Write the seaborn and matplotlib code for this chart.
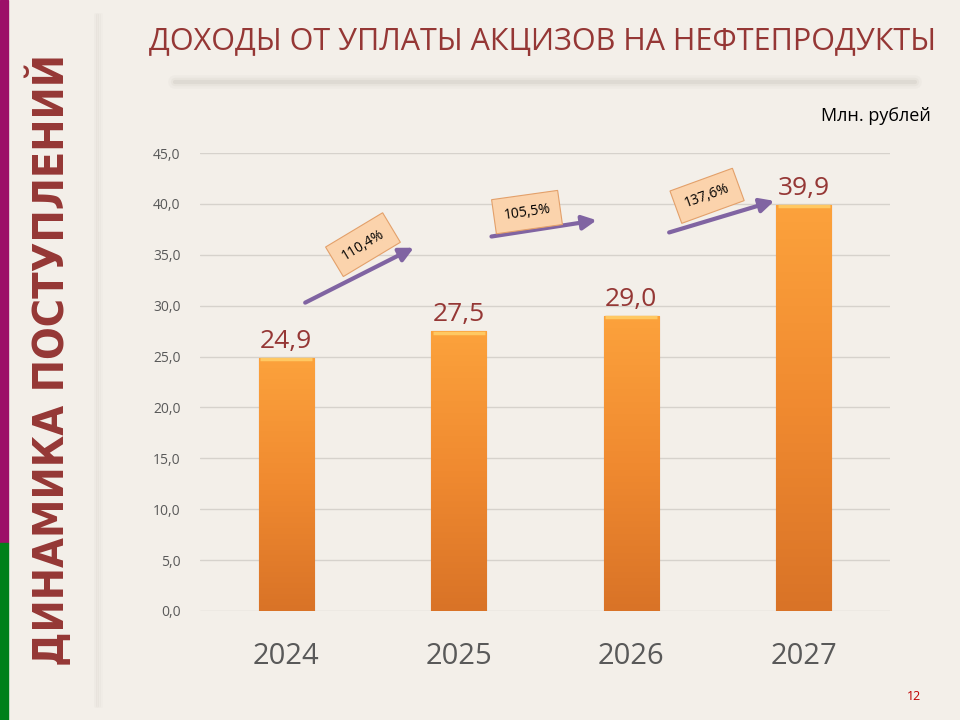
import numpy as np
import pandas as pd
import seaborn as sns
import matplotlib.pyplot as plt
from matplotlib.colors import LinearSegmentedColormap

# data
years = ["2024", "2025", "2026", "2027"]
revenue = [24.9, 27.5, 29.0, 39.9]
growth_pct = ["110,4%", "105,5%", "137,6%"]

title = "ДОХОДЫ ОТ УПЛАТЫ АКЦИЗОВ НА НЕФТЕПРОДУКТЫ"
side_title = "ДИНАМИКА ПОСТУПЛЕНИЙ"
unit = "Млн. рублей"

BG = "#f3efe9"
DARK_RED = "#953735"
GREY = "#595959"

sns.set_theme(style="white")
plt.rcParams["font.family"] = ["Open Sans", "DejaVu Sans"]

df = pd.DataFrame({"year": years, "value": revenue})

fig = plt.figure(figsize=(9.6, 7.2), dpi=100, facecolor=BG)
ax = fig.add_axes([0.2083, 0.1514, 0.7187, 0.636])
ax.set_facecolor("none")

sns.barplot(data=df, x="year", y="value", color="#f7923a", width=0.32,
            edgecolor="#c8692a", linewidth=0.8, ax=ax, zorder=3)

ax.set_ylim(0, 45)
ax.set_xlim(-0.5, 3.5)
ax.set_yticks(np.arange(0, 45.1, 5))
ax.set_yticklabels([f"{v:.1f}".replace(".", ",") for v in np.arange(0, 45.1, 5)])
ax.yaxis.grid(True, color="#d6d2cc", linewidth=1)
ax.set_axisbelow(True)
for s in ax.spines.values():
    s.set_visible(False)
ax.tick_params(axis="y", labelsize=10, colors=GREY, length=0, pad=14)
ax.tick_params(axis="x", labelsize=21, colors=GREY, length=0, pad=22)
ax.set_xlabel("")
ax.set_ylabel("")

# gradient fill on bars
cmap = LinearSegmentedColormap.from_list("bar", ["#d97327", "#f08a30", "#fca23c"])
grad = np.linspace(0, 1, 256).reshape(-1, 1)
for p in ax.patches:
    x0, y0 = p.get_x(), p.get_y()
    w, h = p.get_width(), p.get_height()
    im = ax.imshow(grad, extent=[x0, x0 + w, y0, y0 + h], origin="lower",
                   cmap=cmap, aspect="auto", zorder=3.5)
    im.set_clip_path(p)
    # light top bevel
    ax.plot([x0 + 0.01, x0 + w - 0.01], [y0 + h - 0.15, y0 + h - 0.15],
            color="#ffc862", lw=2.5, zorder=4, solid_capstyle="butt")
ax.set_xlim(-0.5, 3.5)
ax.set_ylim(0, 45)

# value labels
for i, v in enumerate(revenue):
    ax.text(i, v + 0.4, f"{v:.1f}".replace(".", ","), ha="center", va="bottom",
            fontsize=19, color=DARK_RED, zorder=5)

# growth arrows with rotated boxes
arrows = [((0.11, 30.3), (0.74, 35.7)),
          ((1.19, 36.8), (1.80, 38.4)),
          ((2.22, 37.2), (2.83, 40.3))]
boxes = [(0.445, 36.0, 31), (1.396, 39.2, 8), (2.44, 40.8, 20)]
for (start, end), (bx, by, rot), label in zip(arrows, boxes, growth_pct):
    ax.annotate("", xy=end, xytext=start,
                arrowprops=dict(arrowstyle="-|>,head_length=0.7,head_width=0.35",
                                color="#8064a2", lw=3, shrinkA=0, shrinkB=0),
                zorder=6)
    ax.text(bx, by, label, rotation=rot, ha="center", va="center", fontsize=10,
            color="black", zorder=7, rotation_mode="anchor",
            bbox=dict(boxstyle="square,pad=0.7", fc="#fbd3ac", ec="#e3a06a", lw=0.8))

# side stripes and shadow
fig.patches.append(plt.Rectangle((0, 1 - 543 / 720), 8 / 960, 543 / 720,
                                 transform=fig.transFigure, color="#9c0f68", zorder=0))
fig.patches.append(plt.Rectangle((0, 0), 8 / 960, 1 - 543 / 720,
                                 transform=fig.transFigure, color="#008019", zorder=0))
for k, a in enumerate([0.05, 0.08, 0.05, 0.03]):
    fig.add_artist(plt.Line2D([(95 + k * 2) / 960] * 2, [0.02, 0.98],
                              transform=fig.transFigure, color="#9a948c", alpha=a, lw=2))
# title shadow
for k, (lw, a) in enumerate([(10, 0.04), (6, 0.06), (3, 0.10)]):
    fig.add_artist(plt.Line2D([175 / 960, 915 / 960], [1 - 82 / 720] * 2,
                              transform=fig.transFigure, color="#8a847c",
                              alpha=a, lw=lw, solid_capstyle="round"))

fig.text(0.052, 0.5, side_title, rotation=90, ha="center", va="center",
         fontsize=31, fontweight="bold", fontstretch="condensed", color=DARK_RED,
         family=["DejaVu Sans"])
fig.text(0.565, 1 - 42 / 720, title, ha="center", va="center", fontsize=22,
         color=DARK_RED)
fig.text(0.97, 1 - 116 / 720, unit, ha="right", va="center", fontsize=13,
         color="black")
fig.text(0.96, 1 - 696 / 720, "12", ha="right", va="center", fontsize=9,
         color="#c00000")

fig.savefig("out.png", dpi=100, facecolor=BG)
